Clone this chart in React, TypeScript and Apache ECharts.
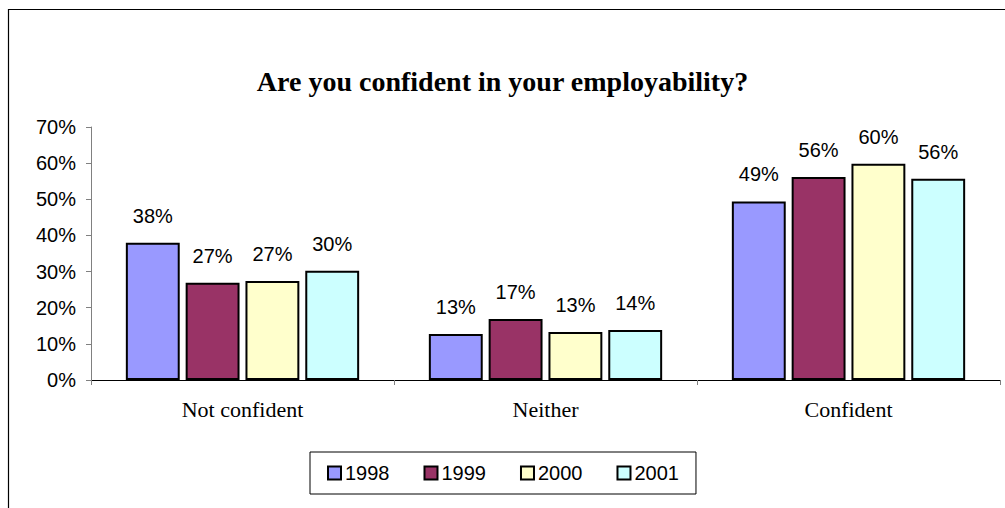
import React, { useEffect, useRef } from "react";
import * as echarts from "echarts";

const categories = ["Not confident", "Neither", "Confident"];
const seriesNames = ["1998", "1999", "2000", "2001"];
const values1998 = [0.38, 0.127, 0.494];
const values1999 = [0.269, 0.169, 0.562];
const values2000 = [0.274, 0.133, 0.598];
const values2001 = [0.302, 0.138, 0.557];
const colors = ["#9999FF", "#993366", "#FFFFCC", "#CCFFFF"];
const yTicks = [0, 0.1, 0.2, 0.3, 0.4, 0.5, 0.6, 0.7];

export default function App() {
  const ref = useRef<HTMLDivElement>(null);
  useEffect(() => {
    if (!ref.current) return;
    const chart = echarts.init(ref.current, null, { renderer: "svg" });
    const all = [values1998, values1999, values2000, values2001];
    chart.setOption({
      animation: false,
      backgroundColor: "#ffffff",
      title: {
        text: "Are you confident in your employability?",
        left: "center",
        top: 62,
        textStyle: {
          fontFamily: "Liberation Serif",
          fontWeight: "bold",
          fontSize: 28,
          color: "#000",
        },
      },
      graphic: [
        {
          type: "rect",
          shape: { x: 8.5, y: 9.5, width: 1200, height: 700 },
          style: { fill: "none", stroke: "#000", lineWidth: 1.2 },
          silent: true,
        },
      ],
      legend: {
        data: seriesNames,
        left: 310,
        top: 452,
        padding: [11, 17, 11, 17],
        itemGap: 34,
        itemWidth: 13,
        itemHeight: 13,
        icon: "rect",
        borderColor: "#000",
        borderWidth: 1,
        textStyle: { fontFamily: "Liberation Sans", fontSize: 20, color: "#000", padding: [0, 0, 0, -1] },
      },
      grid: { left: 91, right: 5, top: 127, bottom: 128, containLabel: false },
      xAxis: {
        type: "category",
        data: categories,
        axisLine: { lineStyle: { color: "#000", width: 1 } },
        axisTick: { show: true, length: 5, alignWithLabel: false, lineStyle: { color: "#808080" } },
        axisLabel: {
          margin: 18,
          fontFamily: "Liberation Serif",
          fontSize: 22,
          color: "#000",
        },
      },
      yAxis: {
        type: "value",
        min: 0,
        max: 0.7,
        interval: 0.1,
        splitLine: { show: false },
        axisLine: { show: true, lineStyle: { color: "#808080", width: 1 } },
        axisTick: { show: true, length: 5, lineStyle: { color: "#808080" } },
        axisLabel: {
          margin: 15,
          fontFamily: "Liberation Sans",
          fontSize: 20,
          color: "#000",
          formatter: (v: number) => (yTicks.some((t) => Math.abs(t - v) < 1e-9) ? Math.round(v * 100) + "%" : ""),
        },
      },
      series: seriesNames.map((name, i) => ({
        name,
        type: "bar",
        data: all[i],
        barGap: "11%",
        barCategoryGap: "23%",
        itemStyle: { color: colors[i], borderColor: "#000", borderWidth: 2 },
        label: {
          show: true,
          position: "top",
          distance: 17,
          fontFamily: "Liberation Sans",
          fontSize: 20,
          color: "#000",
          formatter: (p: any) => Math.round(p.value * 100) + "%",
        },
      })),
    });
    return () => chart.dispose();
  }, []);
  return (
    <div
      ref={ref}
      style={{ position: "fixed", left: 0, top: 0, width: 1005, height: 508 }}
    />
  );
}
